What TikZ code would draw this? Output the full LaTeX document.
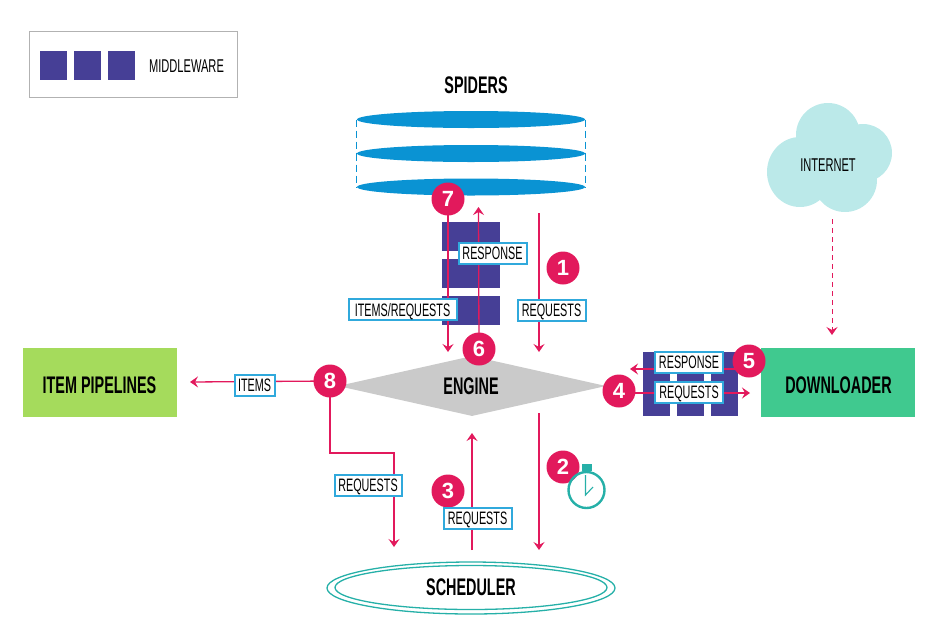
\documentclass[tikz,border=0pt]{standalone}
\usepackage{fontspec}
\setmainfont[FakeStretch=0.6]{Liberation Sans}
\newfontfamily\numfont{Liberation Sans}
\usetikzlibrary{arrows.meta,shapes.geometric}
\definecolor{pinkc}{HTML}{E2195C}
\definecolor{mwc}{HTML}{463F96}
\definecolor{bluec}{HTML}{0A93D3}
\definecolor{boxc}{HTML}{30A9DC}
\definecolor{tealc}{HTML}{26B0A8}
\definecolor{cloudc}{HTML}{BBE9E9}
\definecolor{greyc}{HTML}{CACACA}
\definecolor{ipc}{HTML}{A5DB5C}
\definecolor{dlc}{HTML}{40C98F}
\pgfdeclarelayer{back}
\pgfdeclarelayer{conn}
\pgfsetlayers{back,conn,main}
\tikzset{
  x=1pt,y=-1pt,
  mwv/.style={fill=mwc,minimum width=58pt,minimum height=29pt,inner sep=0pt},
  mwh/.style={fill=mwc,minimum width=27pt,minimum height=64pt,inner sep=0pt},
  mwl/.style={fill=mwc,minimum width=27pt,minimum height=29pt,inner sep=0pt},
  lab/.style={draw=boxc,fill=white,line width=2pt,inner sep=0pt,minimum height=21pt,
    text depth=0pt,font=\fontsize{18}{18}\selectfont,text=black},
  num/.style={circle,fill=pinkc,minimum size=33pt,inner sep=0pt,text=white,
    font=\numfont\bfseries\fontsize{22}{22}\selectfont},
  head/.style={font=\bfseries\fontsize{24}{24}\selectfont,text=black,inner sep=0pt},
  plain/.style={font=\fontsize{18.5}{18.5}\selectfont,text=black,inner sep=0pt},
  spid/.style={ellipse,fill=bluec,minimum width=228pt,minimum height=17pt,inner sep=0pt},
  flow/.style={draw=pinkc,line width=1.3pt,-{Stealth[length=8pt,width=11pt,inset=3pt]}},
}
\begin{document}
\begin{tikzpicture}
\useasboundingbox (0,0) rectangle (932,625);
% legend
\node[draw=black!30,line width=1pt,minimum width=208pt,minimum height=66pt,inner sep=0pt] (legend) at (133,64) {};
\node[mwl] (l1) at (53.5,65.5) {};
\node[mwl] (l2) at (87.5,65.5) {};
\node[mwl] (l3) at (121.5,65.5) {};
\node[plain] (lt) at (186.5,66) {MIDDLEWARE};
% spiders
\node[head] (spiders) at (476,85) {SPIDERS};
\begin{pgfonlayer}{back}
\node[spid] (s1) at (471,119.5) {};
\node[spid] (s2) at (471,153.5) {};
\node[spid] (s3) at (471,187) {};
\draw[bluec,line width=1.3pt,dash pattern=on 7pt off 4pt] (s1.west) -- (s2.west) (s2.west) -- (s3.west);
\draw[bluec,line width=1.3pt,dash pattern=on 7pt off 4pt] (s1.east) -- (s2.east) (s2.east) -- (s3.east);
\node[mwv] (m1) at (471,236.5) {};
\node[mwv] (m2) at (471,273.5) {};
\node[mwv] (m3) at (471,310) {};
\node[mwh] (d1) at (656.5,384) {};
\node[mwh] (d2) at (690.5,384) {};
\node[mwh] (d3) at (724.5,384) {};
\node[diamond,fill=greyc,minimum width=268pt,minimum height=60pt,aspect=4.4,inner sep=0pt] (enginebg) at (472,386) {};
\end{pgfonlayer}
\node[head] (engine) at (471,386) {ENGINE};
% boxes
\node[fill=ipc,minimum width=154pt,minimum height=69pt,inner sep=0pt] (ip) at (100,382.5) {};
\node[head] (iptext) at (99.5,385) {ITEM PIPELINES};
\node[fill=dlc,minimum width=154pt,minimum height=69pt,inner sep=0pt] (dl) at (838,382.5) {};
\node[head] (dltext) at (838.5,385) {DOWNLOADER};
% scheduler
\node[ellipse,draw=tealc,line width=1.3pt,minimum width=288pt,minimum height=52pt,inner sep=0pt] (so) at (471,588) {};
\node[ellipse,draw=tealc,line width=1.3pt,minimum width=272pt,minimum height=44pt,inner sep=0pt,head] (sched) at (471,587.5) {SCHEDULER};
% cloud
\fill[cloudc] (800,172) circle[x radius=33,y radius=35]
  (828,135) circle[radius=32]
  (863,153) circle[radius=29]
  (845,180) circle[radius=32]
  (830,165) circle[radius=25];
\node[plain] (internet) at (828,165) {INTERNET};
% numbered circles
\node[num] (n1) at (563,268) {1};
\node[num] (n2) at (563,467) {2};
\node[num] (n3) at (448,491) {3};
\node[num] (n4) at (619,391) {4};
\node[num] (n5) at (749,361) {5};
\node[num] (n6) at (479,349) {6};
\node[num] (n7) at (448,199) {7};
\node[num] (n8) at (330,381) {8};
% labels
\node[lab,minimum width=68pt] (lresp) at (492.5,253.5) {RESPONSE};
\node[lab,minimum width=108pt] (litems) at (402.5,309.5) {ITEMS/REQUESTS};
\node[lab,minimum width=68pt] (lreq1) at (551.5,310.5) {REQUESTS};
\node[lab,minimum width=40pt,minimum height=21pt] (lit) at (254.5,385) {ITEMS};
\node[lab,minimum width=67pt] (lreq8) at (368,485) {REQUESTS};
\node[lab,minimum width=68pt] (lreq3) at (477.5,518) {REQUESTS};
\node[lab,minimum width=68pt] (lresp5) at (689,362) {RESPONSE};
\node[lab,minimum width=68pt] (lreq4) at (689,392.5) {REQUESTS};
% clock
\fill[tealc] (582,464) rectangle (592,471);
\draw[tealc,line width=2.4pt] (586.5,490) circle[radius=18];
\draw[tealc,line width=1.1pt] (585.5,475) -- (585.5,495) -- (593,487);
% free ends of connectors
\coordinate (a1s) at (539,213);
\coordinate (a1e) at (539,352);
\coordinate (a2s) at (539,413);
\coordinate (a2e) at (539,550);
\coordinate (a3s) at (472,550);
\coordinate (a3e) at (472,433);
\coordinate (a6e) at (478.5,207);
\coordinate (a7e) at (448,352);
\coordinate (a8e) at (190,382);
\coordinate (a8a) at (330,453);
\coordinate (a8b) at (394,453);
\coordinate (a8c) at (394,547);
\coordinate (a4e) at (750,393);
\coordinate (a5e) at (630,369);
\coordinate (a9s) at (832,219);
\coordinate (a9e) at (832,335);
\begin{pgfonlayer}{conn}
\draw[flow] (a1s) -- (a1e);
\draw[flow] (a2s) -- (a2e);
\draw[flow] (a3s) -- (a3e);
\draw[flow] (n6.center) -- (a6e);
\draw[flow] (n7.center) -- (a7e);
\draw[flow] (n8.center) -- (a8e);
\draw[flow] (n8.center) -- (a8a) -- (a8b) -- (a8c);
\draw[flow] (n4.center |- a4e) -- (a4e);
\draw[flow] (n5.center |- a5e) -- (a5e);
\draw[flow,line width=1pt,dash pattern=on 5pt off 4pt] (a9s) -- (a9e);
\end{pgfonlayer}
\end{tikzpicture}
\end{document}
